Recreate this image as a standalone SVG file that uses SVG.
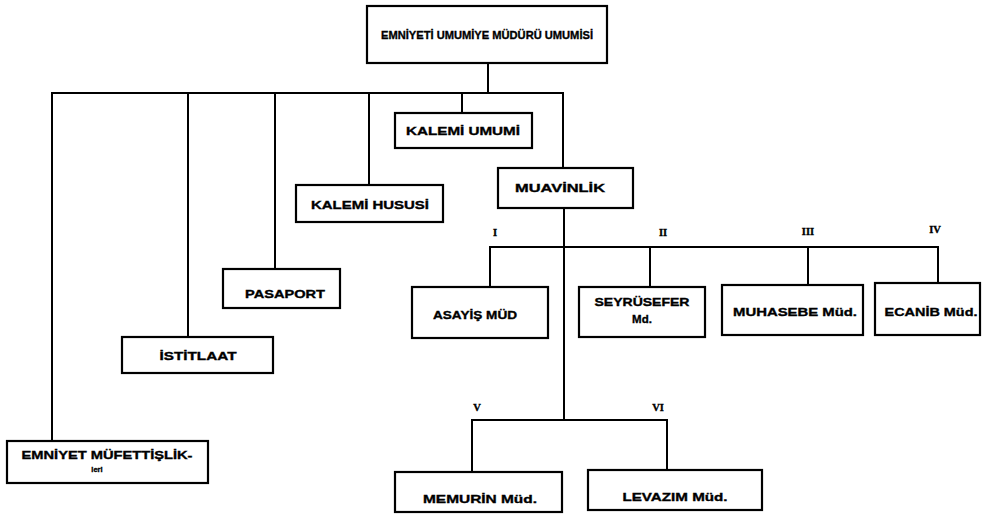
<svg xmlns="http://www.w3.org/2000/svg" width="982" height="515" viewBox="0 0 982 515">
<style>
.box{fill:#fff;stroke:#000;stroke-width:2.2}
.ln{fill:none;stroke:#000;stroke-width:2;stroke-linecap:square}
text{font-family:"Liberation Sans","DejaVu Sans",sans-serif;font-weight:bold;fill:#000;stroke:#000;stroke-width:0.35;text-anchor:middle}
.t{font-size:11.5px}
.s{font-size:7.5px}
.lab{font-family:"Liberation Serif",serif;font-size:10.5px}
</style>
<rect width="982" height="515" fill="#fff"/>
<g id="connectors">
<path class="ln" d="M488 63V93M52 93H563M52 93V441M188 93V337M275 93V269M369 93V185M462 93V113M563 93V168"/>
<path class="ln" d="M564 208V420M490 287V247H938V283M650 247V287M808 247V285"/>
<path class="ln" d="M472 472V420H667V470"/>
</g>
<g id="labels">
<text class="lab" x="495" y="236">I</text>
<text class="lab" x="663" y="236">II</text>
<text class="lab" x="808" y="235">III</text>
<text class="lab" x="935" y="233">IV</text>
<text class="lab" x="477" y="411">V</text>
<text class="lab" x="658" y="411">VI</text>
</g>
<g id="n-genel"><rect class="box" x="367" y="6" width="240" height="57"/><text class="t" x="487" y="39" textLength="212" lengthAdjust="spacingAndGlyphs">EMNİYETİ UMUMİYE MÜDÜRÜ UMUMİSİ</text></g>
<g id="n-kalemi-umumi"><rect class="box" x="395" y="113" width="137" height="35"/><text class="t" x="463" y="135" textLength="114" lengthAdjust="spacingAndGlyphs">KALEMİ UMUMİ</text></g>
<g id="n-kalemi-hususi"><rect class="box" x="296" y="185" width="147" height="37"/><text class="t" x="370" y="209" textLength="118" lengthAdjust="spacingAndGlyphs">KALEMİ HUSUSİ</text></g>
<g id="n-muavinlik"><rect class="box" x="498" y="168" width="135" height="40"/><text class="t" x="560" y="192" textLength="90" lengthAdjust="spacingAndGlyphs">MUAVİNLİK</text></g>
<g id="n-pasaport"><rect class="box" x="223" y="269" width="117" height="39"/><text class="t" x="285" y="298" textLength="80" lengthAdjust="spacingAndGlyphs">PASAPORT</text></g>
<g id="n-istitlaat"><rect class="box" x="122" y="337" width="151" height="36"/><text class="t" x="198" y="360" textLength="77" lengthAdjust="spacingAndGlyphs">İSTİTLAAT</text></g>
<g id="n-mufettislik"><rect class="box" x="7" y="441" width="201" height="42"/><text class="t" x="107" y="459" textLength="171" lengthAdjust="spacingAndGlyphs">EMNİYET MÜFETTİŞLİK-</text><text class="s" x="97" y="472">leri</text></g>
<g id="n-asayis"><rect class="box" x="412" y="287" width="136" height="51"/><text class="t" x="475" y="319" textLength="84" lengthAdjust="spacingAndGlyphs">ASAYİŞ MÜD</text></g>
<g id="n-seyrusefer"><rect class="box" x="579" y="287" width="126" height="50"/><text class="t" x="642" y="306" textLength="95" lengthAdjust="spacingAndGlyphs">SEYRÜSEFER</text><text class="t" x="642" y="323">Md.</text></g>
<g id="n-muhasebe"><rect class="box" x="722" y="285" width="141" height="50"/><text class="t" x="795" y="316" textLength="124" lengthAdjust="spacingAndGlyphs">MUHASEBE Müd.</text></g>
<g id="n-ecanib"><rect class="box" x="875" y="283" width="105" height="52"/><text class="t" x="931" y="316" textLength="93" lengthAdjust="spacingAndGlyphs">ECANİB Müd.</text></g>
<g id="n-memurin"><rect class="box" x="395" y="472" width="167" height="40"/><text class="t" x="480" y="503" textLength="114" lengthAdjust="spacingAndGlyphs">MEMURİN Müd.</text></g>
<g id="n-levazim"><rect class="box" x="588" y="470" width="174" height="40"/><text class="t" x="675" y="501" textLength="105" lengthAdjust="spacingAndGlyphs">LEVAZIM Müd.</text></g>
</svg>
